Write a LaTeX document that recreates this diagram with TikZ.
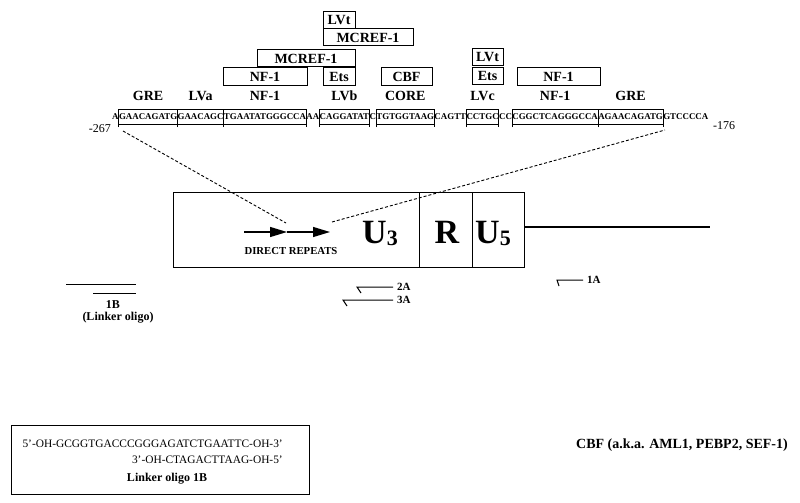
\documentclass[tikz,border=0pt]{standalone}
\usepackage{fontspec}
\setmainfont{Liberation Serif}
\usetikzlibrary{arrows.meta}
\begin{document}
\begin{tikzpicture}[x=1pt,y=-1pt,
  seq/.style={inner sep=0pt, font=\fontsize{8.9}{9}\selectfont\bfseries, anchor=base west},
  tbox/.style={draw, line width=1pt, inner sep=0pt, outer sep=0pt, font=\fontsize{14}{14}\selectfont\bfseries, anchor=north west, minimum height=17pt},
  lbl/.style={inner sep=0pt, font=\fontsize{14}{14}\selectfont\bfseries, anchor=base},
  brk/.style={line width=0.9pt},
  cell/.style={draw, line width=1pt, inner sep=0pt, outer sep=0pt, anchor=north west, minimum height=75pt},
  big/.style={inner sep=0pt, anchor=base, font=\fontsize{34}{34}\selectfont\bfseries},
  dashl/.style={line width=0.9pt, dash pattern=on 3pt off 2pt},
  rep/.style={line width=1.2pt, -{Triangle[length=17pt,width=10pt]}},
  prim/.style={line width=1pt},
  plbl/.style={inner xsep=4pt, inner ysep=0pt, anchor=west, font=\fontsize{11}{11}\selectfont\bfseries},
  posl/.style={inner sep=0pt, font=\fontsize{12}{12}\selectfont},
  small/.style={inner sep=0pt, font=\fontsize{11.4}{12}\selectfont},
  smallb/.style={inner sep=0pt, font=\fontsize{12}{12}\selectfont\bfseries}
]
\useasboundingbox (0,0) rectangle (800,503);

% helper coordinates
\coordinate (btop) at (0,109);
\coordinate (bbot) at (0,124);
\coordinate (btick) at (0,127);
\coordinate (lblbase) at (0,100);

% top factor boxes
\node[tbox, minimum width=32pt] (lvt1) at (323,12) {LVt};
\node[tbox, minimum width=90pt] (mc1) at (323,29) {MCREF-1};
\node[tbox, minimum width=98pt] (mc2) at (257,50) {MCREF-1};
\node[tbox, minimum width=84pt] (nfb1) at (223,68) {NF-1};
\node[tbox, minimum width=32pt] (ets1) at (323,68) {Ets};
\node[tbox, minimum width=51pt] (cbf) at (381,68) {CBF};
\node[tbox, minimum width=31pt] (lvt2) at (472,49) {LVt};
\node[tbox, minimum width=31pt, minimum height=16pt] (ets2) at (472,68) {Ets};
\node[tbox, minimum width=83pt] (nfb2) at (517,68) {NF-1};

% sequence
\node[seq] (s0) at (112,119) {A};
\node[seq] (s1) at (s0.base east) {GAACAGATG};
\node[seq] (s2) at (s1.base east) {GAACAGC};
\node[seq] (s3) at (s2.base east) {TGAATATGGGCCA};
\node[seq] (s4) at (s3.base east) {AA};
\node[seq] (s5) at (s4.base east) {CAGGATAT};
\node[seq] (s6) at (s5.base east) {C};
\node[seq] (s7) at (s6.base east) {TGTGGTAAG};
\node[seq] (s8) at (s7.base east) {CAGTT};
\node[seq] (s9) at (s8.base east) {CCTGC};
\node[seq] (s10) at (s9.base east) {CC};
\node[seq] (s11) at (s10.base east) {CGGCTCAGGGCCA};
\node[seq] (s12) at (s11.base east) {AGAACAGATG};
\node[seq] (s13) at (s12.base east) {GTCCCCA};

\foreach \s in {s1,s2,s3,s5,s7,s9,s11,s12} {
  \draw[brk] (\s.west |- btick) -- (\s.west |- btop) -- (\s.east |- btop) -- (\s.east |- btick);
  \draw[brk] (\s.west |- bbot) -- (\s.east |- bbot);
}

% site labels
\node[lbl] (lgre1) at (s1.center |- lblbase) {GRE};
\node[lbl] (llva) at (s2.center |- lblbase) {LVa};
\node[lbl] (lnf1) at (s3.center |- lblbase) {NF-1};
\node[lbl] (llvb) at (s5.center |- lblbase) {LVb};
\node[lbl] (lcore) at (s7.center |- lblbase) {CORE};
\node[lbl] (llvc) at (s9.center |- lblbase) {LVc};
\node[lbl] (lnf2) at (s11.center |- lblbase) {NF-1};
\node[lbl] (lgre2) at (s12.center |- lblbase) {GRE};

\node[posl, anchor=east] (p267) at (111,129) {-267};
\node[posl, anchor=west] (p176) at (713,126) {-176};

% LTR box
\node[cell, minimum width=246pt] (u3) at (173,192) {};
\node[cell, minimum width=53pt] (rr) at (u3.north east) {};
\node[cell, minimum width=52pt] (u5) at (rr.north east) {};
\coordinate (ltrend) at (710,227);
\draw[line width=1.1pt] (u5.east |- ltrend) -- (ltrend);

\node[big] (tu3) at (380,243) {U\raisebox{-2pt}{\fontsize{22}{22}\selectfont 3}};
\node[big] (tr) at (447,243) {R};
\node[big] (tu5) at (493,243) {U\raisebox{-2pt}{\fontsize{22}{22}\selectfont 5}};

% direct repeats
\coordinate (r1) at (244,232);
\coordinate (r2) at (287,232);
\coordinate (r3) at (330,232);
\draw[rep] (r1) -- (r2);
\draw[rep] (r2) -- (r3);
\node[inner sep=0pt, font=\fontsize{10.7}{11}\selectfont\bfseries] (dr) at (291,251) {DIRECT REPEATS};

% dashed zoom lines
\coordinate (dl0) at (123,131);
\coordinate (dl1) at (286,223);
\coordinate (dr0) at (332,222);
\coordinate (dr1) at (665,130);
\draw[dashl] (dl0) -- (dl1);
\draw[dashl] (dr0) -- (dr1);

% primers
\node[plbl] (l2a) at (393,287) {2A};
\draw[prim] (l2a.west) -- ++(-36,0) -- ++(4,6);
\node[plbl] (l3a) at (393,300) {3A};
\draw[prim] (l3a.west) -- ++(-50,0) -- ++(4,6);
\node[plbl] (l1a) at (583,280) {1A};
\draw[prim] (l1a.west) -- ++(-26,0) -- ++(2,6);

\node[smallb] (l1b) at (113,305) {1B};
\node[smallb, anchor=north] (llo) at (118,312) {(Linker oligo)};
\coordinate (b1a) at (66,284);
\coordinate (b1b) at (136,284);
\coordinate (b2a) at (93,293);
\coordinate (b2b) at (136,293);
\draw[prim] (b1a) -- (b1b);
\draw[prim] (b2a) -- (b2b);

% linker box
\node[draw, line width=1pt, inner sep=0pt, anchor=north west, minimum width=298pt, minimum height=69pt] (lbox) at (11,425) {};
\node[small, anchor=east] (ln1) at (283,444) {5'-OH-GCGGTGACCCGGGAGATCTGAATTC-OH-3'};
\node[small, anchor=east] (ln2) at (283,460) {3'-OH-CTAGACTTAAG-OH-5'};
\node[smallb] (ln3) at (167,479) {Linker oligo 1B};

\node[inner sep=0pt, font=\fontsize{14}{14}\selectfont\bfseries] (cbfnote) at (682,445) {CBF (a.k.a. AML1, PEBP2, SEF-1)};
\end{tikzpicture}
\end{document}
